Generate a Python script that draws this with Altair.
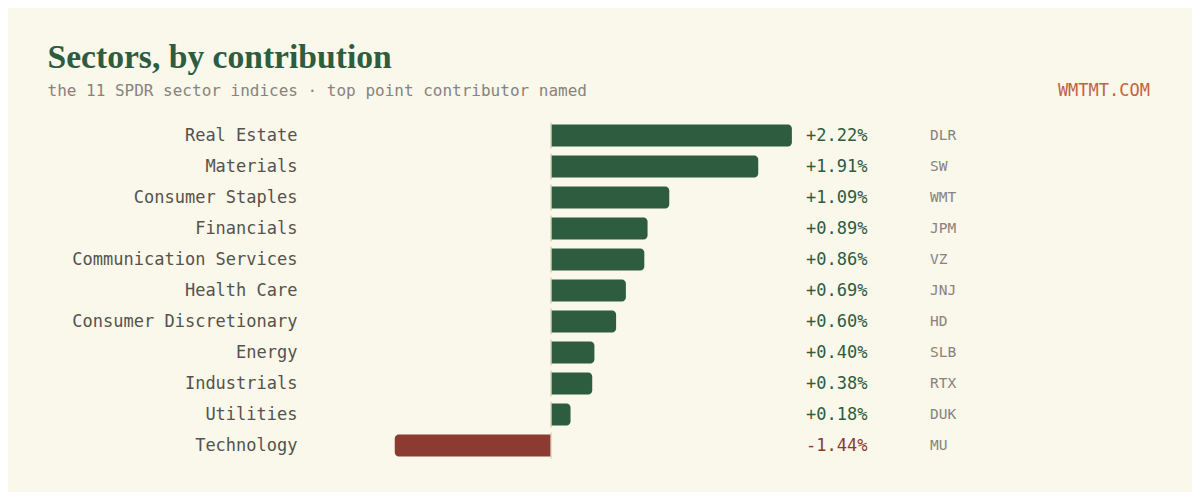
import altair as alt
import pandas as pd

sectors = ["Real Estate", "Materials", "Consumer Staples", "Financials",
           "Communication Services", "Health Care", "Consumer Discretionary",
           "Energy", "Industrials", "Utilities", "Technology"]
values = [2.22, 1.91, 1.09, 0.89, 0.86, 0.69, 0.60, 0.40, 0.38, 0.18, -1.44]
tickers = ["DLR", "SW", "WMT", "JPM", "VZ", "JNJ", "HD", "SLB", "RTX", "DUK", "MU"]

TITLE = "Sectors, by contribution"
SUBTITLE = "the 11 SPDR sector indices \u00b7 top point contributor named"
BRAND = "WMTMT.COM"

GREEN = "#2d5c3f"
RED = "#8c3b30"
BG = "#faf7eb"
LABEL = "#55534c"
TICK = "#86847c"
ZERO = "#d9d0b6"
ORANGE = "#c2633d"
MONO = "DejaVu Sans Mono"
SERIF = "Liberation Serif"

df = pd.DataFrame({
    "sector": sectors,
    "value": values,
    "ticker": tickers,
    "label": [f"{v:+.2f}%" for v in values],
    "sign": ["pos" if v >= 0 else "neg" for v in values],
})

TOTAL_W = 1184
TOTAL_H = 484
LEFT = 297
TOP = 112
W = 840
H = 341
PX_PER_UNIT = 108.5
ZERO_PX = 551 - 8 - LEFT
x_scale = alt.Scale(domain=[-ZERO_PX / PX_PER_UNIT, (W - ZERO_PX) / PX_PER_UNIT], nice=False, zero=False)
y_scale = alt.Scale(domain=sectors, paddingInner=0.29, paddingOuter=0.145)

def px(page_x):
    return page_x - 8 - LEFT

def py(page_y):
    return page_y - 8 - TOP

y_enc = alt.Y("sector:N", sort=sectors, scale=y_scale,
              axis=alt.Axis(title=None, domain=False, ticks=False, labelPadding=8,
                            labelFont=MONO, labelFontSize=17, labelColor=LABEL,
                            labelLimit=400))

base = alt.Chart(df)

pos = base.transform_filter("datum.value >= 0").mark_bar(
    color=GREEN, cornerRadiusTopRight=4, cornerRadiusBottomRight=4
).encode(
    x=alt.X("value:Q", scale=x_scale, axis=None),
    x2=alt.datum(0),
    y=y_enc,
)

neg = base.transform_filter("datum.value < 0").mark_bar(
    color=RED, cornerRadiusTopLeft=4, cornerRadiusBottomLeft=4
).encode(
    x=alt.X("value:Q", scale=x_scale, axis=None),
    x2=alt.datum(0),
    y=y_enc,
)

zero = base.transform_calculate(zero="0").mark_tick(
    color=ZERO, thickness=2, size=26, orient="vertical"
).encode(
    x=alt.X("zero:Q", scale=x_scale, axis=None),
    y=y_enc,
)

vals = base.mark_text(font=MONO, fontSize=17, align="left", baseline="middle").encode(
    x=alt.value(px(806)),
    y=y_enc,
    text="label:N",
    color=alt.Color("sign:N", scale=alt.Scale(domain=["pos", "neg"], range=[GREEN, RED]), legend=None),
)

tick_txt = base.mark_text(font=MONO, fontSize=14.5, align="left", baseline="middle", color=TICK).encode(
    x=alt.value(px(930)),
    y=y_enc,
    text="ticker:N",
)

title = alt.Chart(pd.DataFrame({"t": [TITLE]})).mark_text(
    font=SERIF, fontSize=33.6, fontWeight="bold", color=GREEN, align="left", baseline="alphabetic"
).encode(x=alt.value(px(47.5)), y=alt.value(py(68)), text="t:N")

subtitle = alt.Chart(pd.DataFrame({"t": [SUBTITLE]})).mark_text(
    font=MONO, fontSize=16, color=TICK, align="left", baseline="alphabetic"
).encode(x=alt.value(px(47.5)), y=alt.value(py(96)), text="t:N")

brand = alt.Chart(pd.DataFrame({"t": [BRAND]})).mark_text(
    font=MONO, fontSize=17, color=ORANGE, align="right", baseline="alphabetic"
).encode(x=alt.value(px(1150)), y=alt.value(py(96)), text="t:N")

chart = alt.layer(pos, neg, zero, vals, tick_txt, title, subtitle, brand).properties(
    width=W, height=H,
    autosize=alt.AutoSizeParams(type="none"),
    padding={"left": LEFT, "top": TOP, "right": TOTAL_W - LEFT - W, "bottom": TOTAL_H - TOP - H},
    background=BG,
).configure_view(stroke=None)

chart.save("out.html", embed_options={"renderer": "svg", "actions": False})
